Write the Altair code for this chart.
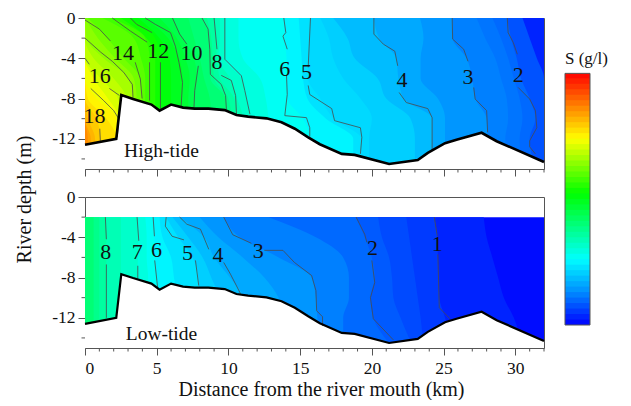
import altair as alt
import pandas as pd

FONT = "Liberation Serif"
INK = "#555555"
W, H = 459, 151

# river bed profile
bed_km = [0, 2.18, 2.53, 3.35, 4.63, 5.2, 6.0, 6.84, 7.65, 8.6, 9.74, 10.56, 11.37, 12.65, 13.7,
          14.63, 15.56, 16.37, 17.9, 18.8, 21.2, 23.2, 23.9, 25.1, 25.9, 27.65, 28.7, 32]
bed_depth = [-12.6, -12, -7.66, -8.05, -8.6, -9.2, -8.6, -8.9, -9, -9, -9.15, -9.64, -9.8, -9.97, -10.36,
             -11, -11.85, -12.54, -13.5, -13.6, -14.5, -14.1, -13.4, -12.44, -12.1, -11.4, -12.24, -14.3]

# distance at which each salinity level is reached, per depth row
high_rows = [0, -2, -4, -6, -8, -10, -12, -15]
high_levels = {
    0.5: [32, 32, 32, 32, 32, 32, 32, 32],
    1.5: [30.5, 31, 31.5, 32, 32, 32, 32, 32],
    2: [29.44, 29.7, 30.1, 30.4, 31, 31.4, 31, 31.4],
    2.25: [28.4, 29, 29.5, 29.9, 30.3, 30.5, 30.3, 30.5],
    2.5: [27.3, 27.9, 28.6, 29, 29.4, 29.5, 29.3, 29.5],
    3: [25.6, 25.63, 26.6, 27, 27.2, 28, 28.07, 28.1],
    3.5: [23.35, 23.6, 23.4, 23.4, 24.6, 25.1, 25.1, 25.1],
    4: [20.14, 20.5, 21.7, 21.85, 22.2, 24.2, 24.2, 24.2],
    4.5: [17.3, 18.3, 18.8, 20.4, 21, 22.7, 23, 23],
    4.75: [16.4, 17, 17.3, 18, 19.2, 20, 19.8, 19.8],
    5: [15.72, 15.65, 15.6, 15.56, 16.4, 17.35, 19.25, 19.2],
    5.5: [14.9, 15, 15.1, 15.2, 15.5, 16.8, 18.7, 18.7],
    6: [13.86, 13.9, 14.05, 14.05, 14.1, 15.2, 15.67, 15.7],
    6.5: [10.7, 10.7, 11, 12.2, 12.6, 12.8, 13, 13],
    7: [9.75, 9.75, 9.75, 10.9, 11.25, 11.5, 11.5, 11.5],
    7.5: [9.4, 9.4, 9.3, 10.1, 10.6, 11, 11, 11],
    8: [9, 9.1, 9.2, 9.4, 10.4, 10.6, 10.6, 10.6],
    8.5: [8.5, 8.8, 8.9, 9, 10, 10.2, 10.2, 10.2],
    9: [8.16, 8.65, 8.7, 8.74, 9.8, 9.9, 9.9, 9.9],
    9.5: [7.2, 7.6, 8, 8.3, 8.7, 8.8, 8.8, 8.8],
    10: [6.1, 6.8, 7.6, 7.8, 7.6, 7.6, 7.6, 7.6],
    10.5: [5.2, 6.4, 7, 7.3, 7.2, 7.2, 7.2, 7.2],
    11: [4.2, 5.8, 6.55, 6.8, 6.75, 6.7, 6.7, 6.7],
    11.5: [3.7, 5.2, 5.9, 6, 6, 6, 6, 6],
    12: [3.1, 4.9, 5.26, 5.26, 5.26, 5.26, 5.26, 5.26],
    12.5: [2.5, 4.3, 4.9, 4.9, 4.9, 4.9, 4.9, 4.9],
    13: [1.85, 4.2, 4.5, 4.5, 4.5, 4.5, 4.5, 4.5],
    13.5: [1.2, 3.4, 3.9, 4.2, 4.2, 4.2, 4.2, 4.2],
    14: [0.2, 1.55, 2.7, 3.85, 3.98, 3.98, 3.98, 3.98],
    14.5: [0, 0.9, 2.1, 3.4, 3.6, 3.6, 3.6, 3.6],
    15: [0, 0.1, 1.3, 3, 3.35, 3.35, 3.35, 3.35],
    15.5: [0, 0, 0.6, 2, 2.9, 3, 3, 3],
    16: [0, 0, 0, 1.1, 2.3, 2.5, 2.5, 2.5],
    16.5: [0, 0, 0, 0.6, 1.6, 2.4, 2.4, 2.4],
    17: [0, 0, 0, 0, 0.8, 2.2, 2.3, 2.3],
    17.5: [0, 0, 0, 0, 0.2, 1.5, 2.2, 2.2],
    18: [0, 0, 0, 0, 0, 0.8, 1.07, 1.07],
    18.5: [0, 0, 0, 0, 0, 0.2, 0.7, 0.7],
    19: [0, 0, 0, 0, 0, 0, 0.4, 0.4],
    19.5: [0, 0, 0, 0, 0, 0, 0.2, 0.2],
}
low_rows = [-2, -4, -6, -8, -10, -12, -15]
low_levels = {
    0: [32, 32, 32, 32, 32, 32, 32],
    0.5: [27.8, 28, 28.4, 28.8, 29.2, 29.9, 30.5],
    1: [24.35, 24.56, 24.6, 24.65, 24.7, 25.1, 25.5],
    1.33: [22.4, 22.6, 22.8, 23, 23.2, 23.4, 23.6],
    1.67: [20.44, 20.7, 21.2, 21.4, 21.5, 22, 22.9],
    2: [18.9, 19.5, 20, 20.2, 19.9, 20.1, 21.5],
    2.5: [12.8, 16.1, 18, 18.4, 18.4, 18, 18],
    3: [9.67, 10.8, 13.5, 15.8, 16.1, 16.2, 16.6],
    3.5: [8, 9.3, 11, 12.5, 13.5, 14, 14],
    4: [6.6, 8.3, 9, 10.1, 11, 11, 11],
    4.5: [6.1, 7.2, 8.2, 8.8, 9.3, 9.3, 9.3],
    5: [5.66, 6.5, 7.5, 7.9, 7.95, 7.95, 7.95],
    5.5: [5.2, 5.4, 6, 6.2, 6.4, 6.4, 6.4],
    6: [4.75, 4.84, 4.86, 5, 5.1, 5.1, 5.1],
    6.5: [4.2, 4.3, 4.3, 4.4, 4.4, 4.4, 4.4],
    7: [3.63, 3.72, 3.68, 3.68, 3.68, 3.68, 3.68],
    7.5: [2.5, 2.5, 2.5, 2.5, 2.5, 2.5, 2.5],
    8: [1.42, 1.49, 1.49, 1.49, 1.49, 1.49, 1.49],
    8.5: [1, 1, 1, 1, 1, 1, 1],
    9: [0.6, 0.6, 0.6, 0.6, 0.6, 0.6, 0.6],
}

# drawn isohalines: (km, depth) vertices of each piece
high_lines = [
    [(29.44, 0), (29.5, -1.45), (29.86, -2.45), (30.14, -3.6)],
    [(30.2, -6.9), (31, -8.05), (31.4, -9.2), (31.5, -10.9), (31, -12.2), (31, -12.8), (31.4, -13.5)],
    [(25.6, 0), (25.63, -2.1), (26.4, -3.1), (26.7, -4.3)],
    [(27.1, -6.9), (27.2, -8.05), (28, -9.2), (28.07, -11.35)],
    [(20.14, 0), (20.14, -1.6), (20.8, -2.6), (21.6, -3.3), (21.8, -4.75)],
    [(21.9, -7.4), (22.4, -8.4), (23.9, -9), (24.2, -9.9), (24.2, -13.2)],
    [(15.72, 0), (15.56, -4.9)],
    [(15.56, -6.7), (15.67, -7.6), (17.2, -9), (17.4, -10.2), (19.2, -10.9), (19.3, -11.85), (19.2, -13.5)],
    [(13.86, 0), (14, -1.45), (13.8, -1.8), (14.1, -3.1)],
    [(14.05, -5.7), (14.1, -7.6), (13.93, -9.7), (15.44, -9.9), (15.67, -10.9), (15.67, -11.8)],
    [(9.75, 0), (9.75, -4.1), (10.9, -5.74), (11.14, -7.2), (11.5, -9.55)],
    [(9, 0), (9.2, -3.1)],
    [(9.5, -5.7), (10.2, -6.2), (10.5, -7.7), (10.56, -9.55)],
    [(8.16, 0), (8.58, -1.1), (8.7, -3.1), (8.74, -5.6), (9.5, -6.6), (9.8, -7.7), (9.86, -9.1)],
    [(6.1, 0), (6.6, -1.6), (7.1, -2.6)],
    [(7.9, -4.75), (7.65, -7.2), (7.6, -8.9)],
    [(4.2, 0), (4.9, -0.63), (5.96, -1.45), (6.3, -2.8), (6.55, -4.4), (6.8, -6.4), (6.7, -8.8)],
    [(3.17, 0), (3.6, -0.63), (4.68, -1.45)],
    [(5.26, -4.4), (5.26, -9.2)],
    [(1.9, 0), (3.17, -1.3), (4.33, -2.4)],
    [(4.5, -4.4), (4.5, -8.2)],
    [(0, -0.2), (1, -1.1), (1.77, -2.28)],
    [(3.5, -4.4), (3.86, -6.07), (3.98, -8)],
    [(0, -2), (1.1, -3.4), (1.9, -4.3), (2.7, -5.4), (3.3, -6.6), (3.35, -8)],
    [(0, -4), (0.3, -4.6)],
    [(1.7, -7), (2.4, -7.7)],
    [(0.4, -7), (1.3, -8.2), (2, -9.2), (2.35, -10), (2.25, -11.85)],
    [(1.03, -11), (1.07, -12.2)],
]
low_lines = [
    [(1.42, -2), (1.49, -4.2)],
    [(1.49, -6.7), (1.49, -12)],
    [(3.63, -2), (3.75, -4.35)],
    [(3.68, -6.83), (3.68, -8.1)],
    [(4.75, -2), (4.84, -3.9)],
    [(4.86, -6.3), (5.07, -9.1)],
    [(5.66, -2), (5.6, -2.9), (6.07, -3.9), (6.9, -4.26)],
    [(7.7, -6.3), (7.93, -8.8)],
    [(6.6, -2), (7.1, -2.7), (8.05, -3.2), (8.63, -5.2)],
    [(9.67, -6.5), (10.14, -7.66), (10.84, -9.6)],
    [(9.67, -2), (10.3, -3.75), (11.6, -4.6)],
    [(12.5, -5.3), (13.8, -5.3), (14.6, -6.5), (15.8, -7.8), (16.1, -9.3), (16.15, -11.3), (16.56, -11.9), (16.56, -12.8)],
    [(18.9, -2), (19.5, -3.7), (19.65, -4.5)],
    [(20, -6.3), (20.2, -8.5), (19.9, -10), (20.1, -12.1), (21.5, -14.2)],
    [(24.35, -2), (24.56, -3.9)],
    [(24.6, -5.7), (24.7, -11), (25.45, -12.1)],
]

high_text = ["14", "12", "10", "8", "6", "5", "16", "18", "4", "3", "2"]
high_text_km = [2.65, 5.1, 7.42, 9.2, 13.93, 15.44, 1.02, 0.67, 22.1, 26.7, 30.2]
high_text_d = [-3.43, -3.27, -3.43, -4.42, -5.08, -5.4, -5.74, -9.7, -6.14, -5.84, -5.64]
low_text = ["8", "7", "6", "5", "4", "3", "2", "1"]
low_text_km = [1.44, 3.65, 4.98, 7.14, 9.28, 12.07, 20.05, 24.56]
low_text_d = [-5.5, -5.5, -5.23, -5.56, -5.8, -5.33, -5.1, -4.7]

x_major = [0, 5, 10, 15, 20, 25, 30]
x_minor = [k for k in range(33) if k % 5]
y_major = [0, -4, -8, -12]
y_minor = [-2, -6, -10, -14]
bar_ticks = list(range(0, 23, 2))
bar_low = [i * 0.5 for i in range(46)]

color_scale = alt.Scale(domain=[0, 3, 6, 9, 12, 17, 20, 23], interpolate="rgb",
                        range=["#0000ff", "#008cff", "#00ffff", "#00ff80", "#00ff00", "#ffff00", "#ff8000", "#ff0000"])
xs = alt.Scale(domain=[0, 32], nice=False, zero=False)
ys = alt.Scale(domain=[-15, 0], nice=False, zero=False)


def panel(rows, levels, lines, labels, lab_km, lab_d, tag, tag_d, bottom, bed_width):
    xa = alt.Axis(
        values=x_major, tickSize=7, tickColor=INK, domain=False, grid=False,
        labels=bottom, labelFont=FONT, labelFontSize=17.5, labelColor="#111", labelPadding=4,
        title="Distance from the river mouth (km)" if bottom else None,
        titleFont=FONT, titleFontSize=20, titleFontWeight="normal", titleColor="#111",
        titlePadding=3, titleX=236)
    ya = alt.Axis(
        values=y_major, tickSize=7, tickColor=INK, domain=False, grid=False,
        labelFont=FONT, labelFontSize=17.5, labelColor="#111", labelPadding=3,
        labelExpr="toString(datum.value)",
        title="River depth (m)" if bottom else None,
        titleFont=FONT, titleFontSize=20, titleFontWeight="normal", titleColor="#111",
        titleY=2, titleX=-51)
    ex = alt.X("km:Q", scale=xs, axis=xa, title=None)
    ey = alt.Y("depth:Q", scale=ys, axis=ya, title=None, stack=None)
    fill = pd.DataFrame([
        {"level": lv, "band": lv + 0.25, "km": k, "zero": 0, "depth": d}
        for lv, vals in levels.items() for k, d in zip(vals, rows)
    ])
    area = alt.Chart(fill).mark_area(orient="horizontal", clip=True, interpolate="monotone").encode(
        x=alt.X("km:Q", scale=xs, axis=xa, stack=None),
        x2="zero:Q",
        y=alt.Y("depth:Q", scale=ys, axis=ya, sort=None),
        color=alt.Color("band:Q", scale=color_scale, legend=None),
        detail="level:N",
    )
    bed = pd.DataFrame({"km": bed_km, "depth": bed_depth, "floor": -15})
    mask = alt.Chart(bed).mark_area(color="white", clip=True).encode(x=ex, y=ey, y2="floor:Q")
    bed_line = alt.Chart(bed).mark_line(color="black", strokeWidth=bed_width).encode(x=ex, y=ey)
    seg = pd.DataFrame([
        {"piece": i, "order": j, "km": k, "depth": d}
        for i, pts in enumerate(lines) for j, (k, d) in enumerate(pts)
    ])
    iso = alt.Chart(seg).mark_line(color="#4a4a4a", strokeWidth=0.8).encode(
        x=ex, y=ey, detail="piece:N", order="order:Q")
    txt = alt.Chart(pd.DataFrame({"t": labels, "km": lab_km, "depth": lab_d})).mark_text(
        font=FONT, fontSize=22, color="#111", align="center", baseline="middle").encode(x=ex, y=ey, text="t:N")
    name = alt.Chart(pd.DataFrame({"t": [tag], "km": [5.33], "depth": [tag_d]})).mark_text(
        font=FONT, fontSize=19.5, color="#111", align="center", baseline="middle").encode(x=ex, y=ey, text="t:N")
    tick_x = alt.Chart(pd.DataFrame({"km": x_minor})).mark_rule(color=INK).encode(
        x=ex, y=alt.value(H), y2=alt.value(H + 3.5))
    tick_y = alt.Chart(pd.DataFrame({"depth": y_minor})).mark_rule(color=INK).encode(
        y=ey, x=alt.value(-3.5), x2=alt.value(0))
    return alt.layer(area, mask, iso, bed_line, txt, name, tick_x, tick_y).properties(
        width=W, height=H, view=alt.ViewBackground(stroke=INK))


p1 = panel(high_rows, high_levels, high_lines, high_text, high_text_km, high_text_d, "High-tide", -13.17, False, 2.6)
p2 = panel(low_rows, low_levels, low_lines, low_text, low_text_km, low_text_d, "Low-tide", -13.6, True, 2.2)

# colour bar
by = alt.Scale(domain=[0, 28], nice=False, zero=False)
bx = alt.Scale(domain=[0, 1], nice=False, zero=False)
bar_df = pd.DataFrame({"lo": bar_low, "hi": [min(v + 0.6, 22.95) for v in bar_low], "mid": [v + 0.25 for v in bar_low], "a": 0, "b": 1})
bar = alt.Chart(bar_df).mark_rect(strokeWidth=0).encode(
    x=alt.X("a:Q", scale=bx, axis=None), x2="b:Q",
    y=alt.Y("lo:Q", scale=by, axis=alt.Axis(
        orient="right", values=bar_ticks, tickSize=4, tickColor=INK, domain=False, grid=False,
        labelFont=FONT, labelFontSize=19, labelColor="#111", labelPadding=8, title=None)),
    y2="hi:Q",
    color=alt.Color("mid:Q", scale=color_scale, legend=None))
frame = alt.Chart(pd.DataFrame({"a": [0], "b": [1], "lo": [0], "hi": [22.95]})).mark_rect(
    fill=None, stroke=INK, strokeWidth=1).encode(
    x=alt.X("a:Q", scale=bx, axis=None), x2="b:Q", y=alt.Y("lo:Q", scale=by, axis=None), y2="hi:Q")
bar_title = alt.Chart(pd.DataFrame({"t": ["S (g/l)"], "a": [0], "v": [23.8]})).mark_text(
    font=FONT, fontSize=17, color="#111", align="left", baseline="alphabetic").encode(
    x=alt.X("a:Q", scale=bx, axis=None), y=alt.Y("v:Q", scale=by, axis=None), text="t:N")
legend = alt.layer(bar, frame, bar_title).properties(width=25, height=307, view=alt.ViewBackground(stroke=None))

left = alt.vconcat(p1, p2, spacing=28, bounds="flush")
chart = alt.hconcat(left, legend, spacing=14).properties(
    padding={"left": 5, "top": 0, "right": 0, "bottom": 0}).configure_view(stroke=None)
chart.save("out.html", embed_options={"renderer": "svg", "actions": False})
